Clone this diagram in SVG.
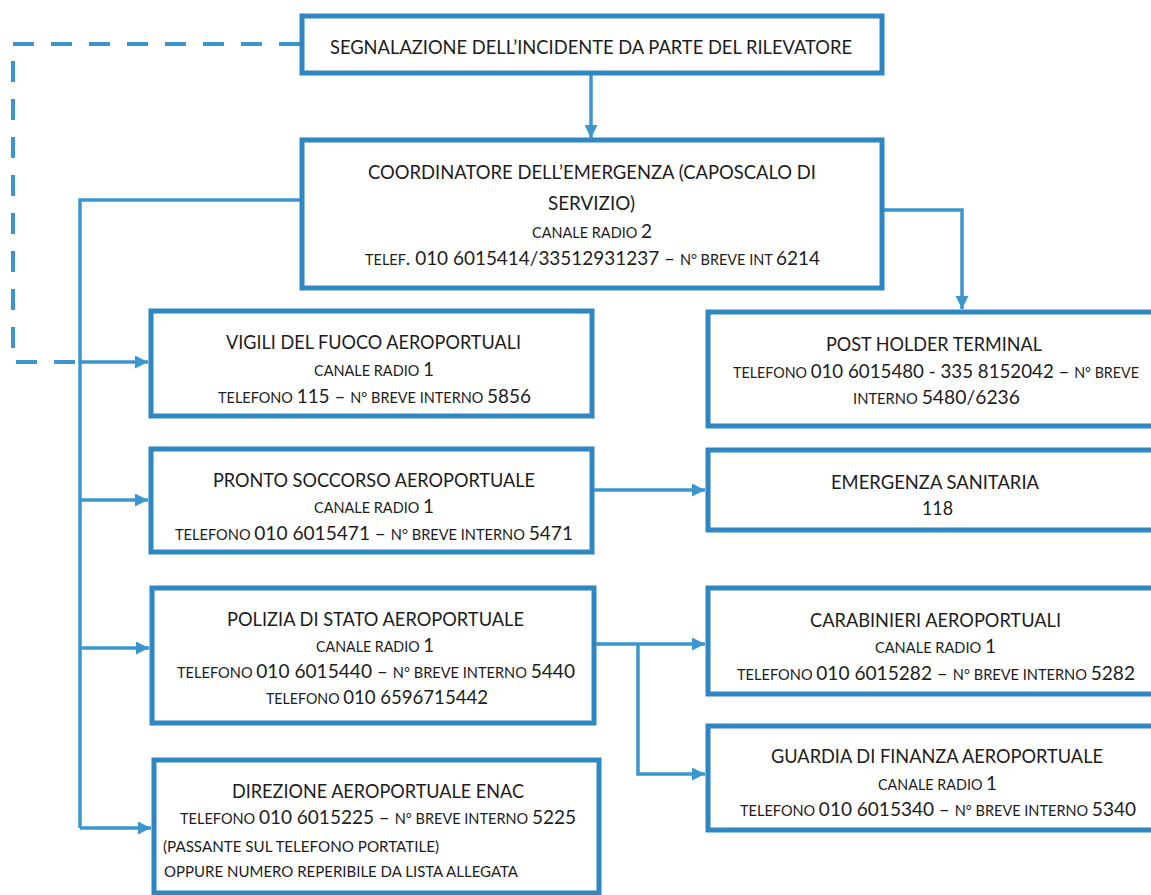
<svg xmlns="http://www.w3.org/2000/svg" width="1151" height="895" viewBox="0 0 1151 895">
<style>
.box{fill:#ffffff;stroke:#2f86c3;stroke-width:5}
.ln{fill:none;stroke:#3b95cf;stroke-width:3.5}
.dash{fill:none;stroke:#3b95cf;stroke-width:4;stroke-dasharray:21 17}
text{font-family:Lato,"Open Sans","Liberation Sans",sans-serif;fill:#1c1c1c}
.h{font-size:19px}
.s{font-size:14.5px}
.n{font-size:19px}
.m{font-size:15.5px}
</style>
<defs>
<marker id="arr" viewBox="0 0 10 10" refX="10" refY="5" markerWidth="13" markerHeight="13" markerUnits="userSpaceOnUse" orient="auto">
<path d="M0,0 L10,5 L0,10 z" fill="#3b95cf"/>
</marker>
</defs>
<rect width="1151" height="895" fill="#ffffff"/>
<g id="connectors">
<path class="dash" d="M300,44 H13 V362 H80"/>
<path class="ln" d="M591,75 V138" marker-end="url(#arr)"/>
<path class="ln" d="M300,200 H80 V828"/>
<path class="ln" d="M80,362 H148" marker-end="url(#arr)"/>
<path class="ln" d="M80,500 H148" marker-end="url(#arr)"/>
<path class="ln" d="M80,648 H149" marker-end="url(#arr)"/>
<path class="ln" d="M80,828 H151" marker-end="url(#arr)"/>
<path class="ln" d="M884,210 H962 V309" marker-end="url(#arr)"/>
<path class="ln" d="M594,490 H705" marker-end="url(#arr)"/>
<path class="ln" d="M596,644 H705" marker-end="url(#arr)"/>
<path class="ln" d="M638,644 V774 H705" marker-end="url(#arr)"/>
</g>
<g id="segnalazione">
<rect class="box" x="302" y="16" width="580" height="57"/>
<text class="h" x="330" y="54" textLength="522" lengthAdjust="spacingAndGlyphs">SEGNALAZIONE DELL’INCIDENTE DA PARTE DEL RILEVATORE</text>
</g>
<g id="coordinatore">
<rect class="box" x="302" y="140" width="580" height="148"/>
<text class="h" x="368" y="179" textLength="448" lengthAdjust="spacingAndGlyphs">COORDINATORE DELL’EMERGENZA (CAPOSCALO DI</text>
<text class="h" x="548" y="210" textLength="87" lengthAdjust="spacingAndGlyphs">SERVIZIO)</text>
<text x="532" y="238" textLength="120" lengthAdjust="spacingAndGlyphs"><tspan class="s">CANALE RADIO </tspan><tspan class="n">2</tspan></text>
<text x="365" y="265" textLength="455" lengthAdjust="spacingAndGlyphs"><tspan class="s">TELEF</tspan><tspan class="n">. 010 6015414/33512931237 – </tspan><tspan class="s">N° BREVE INT </tspan><tspan class="n"> 6214</tspan></text>
</g>
<g id="vigili">
<rect class="box" x="151" y="311" width="441" height="105"/>
<text class="h" x="226" y="349" textLength="295" lengthAdjust="spacingAndGlyphs">VIGILI DEL FUOCO AEROPORTUALI</text>
<text x="314" y="376" textLength="120" lengthAdjust="spacingAndGlyphs"><tspan class="s">CANALE RADIO </tspan><tspan class="n">1</tspan></text>
<text x="218" y="403" textLength="313" lengthAdjust="spacingAndGlyphs"><tspan class="s">TELEFONO </tspan><tspan class="n">115 – </tspan><tspan class="s">N° BREVE INTERNO </tspan><tspan class="n">5856</tspan></text>
</g>
<g id="pronto">
<rect class="box" x="151" y="449" width="441" height="103"/>
<text class="h" x="213" y="487" textLength="322" lengthAdjust="spacingAndGlyphs">PRONTO SOCCORSO AEROPORTUALE</text>
<text x="314" y="513" textLength="120" lengthAdjust="spacingAndGlyphs"><tspan class="s">CANALE RADIO </tspan><tspan class="n">1</tspan></text>
<text x="175" y="540" textLength="398" lengthAdjust="spacingAndGlyphs"><tspan class="s">TELEFONO </tspan><tspan class="n">010 6015471 – </tspan><tspan class="s">N° BREVE INTERNO </tspan><tspan class="n"> 5471</tspan></text>
</g>
<g id="polizia">
<rect class="box" x="152" y="588" width="442" height="135"/>
<text class="h" x="227" y="626" textLength="297" lengthAdjust="spacingAndGlyphs">POLIZIA DI STATO AEROPORTUALE</text>
<text x="316" y="652" textLength="118" lengthAdjust="spacingAndGlyphs"><tspan class="s">CANALE RADIO </tspan><tspan class="n">1</tspan></text>
<text x="177" y="678" textLength="398" lengthAdjust="spacingAndGlyphs"><tspan class="s">TELEFONO </tspan><tspan class="n">010 6015440 – </tspan><tspan class="s">N° BREVE INTERNO </tspan><tspan class="n"> 5440</tspan></text>
<text x="266" y="704" textLength="222" lengthAdjust="spacingAndGlyphs"><tspan class="s">TELEFONO </tspan><tspan class="n">010 6596715442</tspan></text>
</g>
<g id="direzione">
<rect class="box" x="154" y="760" width="445" height="133"/>
<text class="h" x="232" y="798" textLength="292" lengthAdjust="spacingAndGlyphs">DIREZIONE AEROPORTUALE ENAC</text>
<text x="180" y="824" textLength="396" lengthAdjust="spacingAndGlyphs"><tspan class="s">TELEFONO </tspan><tspan class="n">010 6015225 – </tspan><tspan class="s">N° BREVE INTERNO </tspan><tspan class="n"> 5225</tspan></text>
<text class="m" x="163" y="852" textLength="276" lengthAdjust="spacingAndGlyphs">(PASSANTE SUL TELEFONO PORTATILE)</text>
<text class="m" x="164" y="877" textLength="354" lengthAdjust="spacingAndGlyphs">OPPURE NUMERO REPERIBILE DA LISTA ALLEGATA</text>
</g>
<g id="postholder">
<rect class="box" x="708" y="312" width="450" height="114"/>
<text class="h" x="826" y="351" textLength="216" lengthAdjust="spacingAndGlyphs">POST HOLDER TERMINAL</text>
<text x="733" y="378" textLength="406" lengthAdjust="spacingAndGlyphs"><tspan class="s">TELEFONO </tspan><tspan class="n"> 010 6015480 - 335 8152042 – </tspan><tspan class="s">N° BREVE</tspan></text>
<text x="853" y="404" textLength="167" lengthAdjust="spacingAndGlyphs"><tspan class="s">INTERNO </tspan><tspan class="n"> 5480/6236</tspan></text>
</g>
<g id="emergenza">
<rect class="box" x="708" y="450" width="450" height="80"/>
<text class="h" x="831" y="489" textLength="208" lengthAdjust="spacingAndGlyphs">EMERGENZA SANITARIA</text>
<text class="n" x="922" y="515" textLength="31" lengthAdjust="spacingAndGlyphs">118</text>
</g>
<g id="carabinieri">
<rect class="box" x="708" y="588" width="450" height="106"/>
<text class="h" x="810" y="627" textLength="251" lengthAdjust="spacingAndGlyphs">CARABINIERI AEROPORTUALI</text>
<text x="875" y="653" textLength="121" lengthAdjust="spacingAndGlyphs"><tspan class="s">CANALE RADIO </tspan><tspan class="n">1</tspan></text>
<text x="737" y="680" textLength="398" lengthAdjust="spacingAndGlyphs"><tspan class="s">TELEFONO </tspan><tspan class="n">010 6015282 – </tspan><tspan class="s">N° BREVE INTERNO </tspan><tspan class="n"> 5282</tspan></text>
</g>
<g id="guardia">
<rect class="box" x="708" y="726" width="450" height="104"/>
<text class="h" x="771" y="763" textLength="332" lengthAdjust="spacingAndGlyphs">GUARDIA DI FINANZA AEROPORTUALE</text>
<text x="878" y="790" textLength="119" lengthAdjust="spacingAndGlyphs"><tspan class="s">CANALE RADIO </tspan><tspan class="n">1</tspan></text>
<text x="740" y="816" textLength="396" lengthAdjust="spacingAndGlyphs"><tspan class="s">TELEFONO </tspan><tspan class="n">010 6015340 – </tspan><tspan class="s">N° BREVE INTERNO </tspan><tspan class="n"> 5340</tspan></text>
</g>
</svg>
